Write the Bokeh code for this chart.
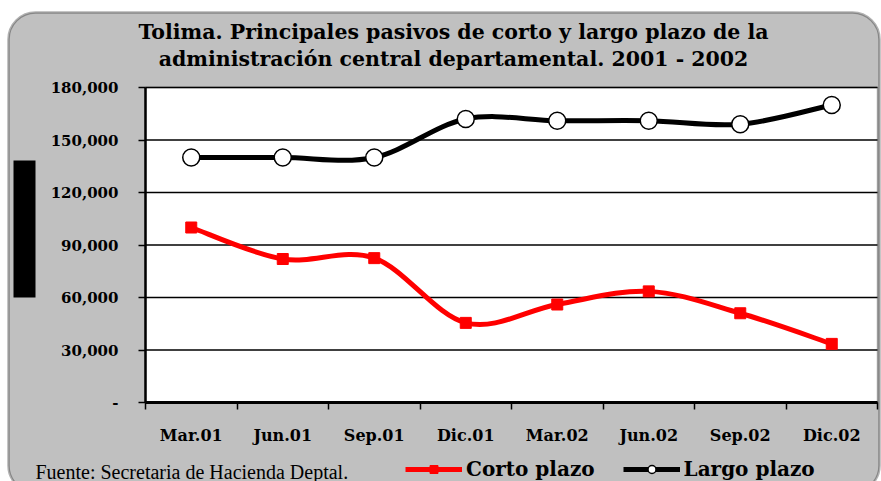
from bokeh.plotting import figure
from bokeh.models import (Range1d, FixedTicker, BoxAnnotation, Label, Legend, LegendItem)
from bokeh.embed import file_html
from bokeh.resources import INLINE

# ---- data ----
periods = ["Mar.01", "Jun.01", "Sep.01", "Dic.01", "Mar.02", "Jun.02", "Sep.02", "Dic.02"]
corto_plazo = [100000, 82000, 82500, 45500, 56000, 63500, 51000, 33500]
largo_plazo = [140000, 140000, 140000, 162000, 161000, 161000, 159000, 170000]
y_ticks = [0, 30000, 60000, 90000, 120000, 150000, 180000]
y_tick_labels = ["-", "30,000", "60,000", "90,000", "120,000", "150,000", "180,000"]
title_lines = ["Tolima. Principales pasivos de corto y largo plazo de la",
               "administración central departamental. 2001 - 2002"]
source_text = "Fuente: Secretaria de Hacienda Deptal."

# ---- layout (pixels) ----
W, H = 881, 481
PL, PR, PT, PB = 145, 877, 87, 402      # plot-area edges in page pixels
YMAX = 180000
SERIF_B = "DejaVu Serif"
GRAY = "#C0C0C0"

n = len(periods)
kx = n / (PR - PL)
ky = YMAX / (PB - PT)
x_range = Range1d(-PL * kx, (W - PL) * kx)
y_range = Range1d(-(H - PB) * ky, YMAX + PT * ky)


def sy(page_y):
    return H - page_y


xs = [i + 0.5 for i in range(n)]


def bezier_segments(x, y):
    m = len(x)
    seg = dict(x0=[], y0=[], x1=[], y1=[], cx0=[], cy0=[], cx1=[], cy1=[])
    for i in range(m - 1):
        a = max(i - 1, 0)
        d = min(i + 2, m - 1)
        seg["x0"].append(x[i]); seg["y0"].append(y[i])
        seg["x1"].append(x[i + 1]); seg["y1"].append(y[i + 1])
        seg["cx0"].append(x[i] + (x[i + 1] - x[a]) / 6.0)
        seg["cy0"].append(y[i] + (y[i + 1] - y[a]) / 6.0)
        seg["cx1"].append(x[i + 1] - (x[d] - x[i]) / 6.0)
        seg["cy1"].append(y[i + 1] - (y[d] - y[i]) / 6.0)
    return seg


p = figure(width=W, height=H, output_backend="svg", toolbar_location=None, title=None,
           x_range=x_range, y_range=y_range,
           min_border_left=0, min_border_right=0, min_border_top=0, min_border_bottom=0)
p.border_fill_color = "white"
p.background_fill_color = "white"
p.outline_line_color = None

# rounded gray panel
p.add_layout(BoxAnnotation(left=8, right=879, top=sy(12), bottom=sy(492),
                           left_units="screen", right_units="screen",
                           top_units="screen", bottom_units="screen",
                           fill_color=GRAY, fill_alpha=1, line_color="black", line_width=2.5,
                           border_radius=27, level="image"))
# white plot area
p.add_layout(BoxAnnotation(left=0, right=n, bottom=0, top=YMAX,
                           fill_color="white", fill_alpha=1, line_color="black",
                           line_width=1.5, level="image"))
# black bar at left
p.add_layout(BoxAnnotation(left=13, right=35, top=sy(160), bottom=sy(297),
                           left_units="screen", right_units="screen",
                           top_units="screen", bottom_units="screen",
                           fill_color="black", fill_alpha=1, line_alpha=0, level="image"))

# horizontal grid lines across the plot area
p.segment(x0=0, x1=n, y0=y_ticks, y1=y_ticks, line_color="black", line_width=1.5)

# axes
p.xgrid.visible = False
p.ygrid.visible = False

xa = p.xaxis[0]
xa.fixed_location = 0
xa.bounds = (0, n)
xa.ticker = FixedTicker(ticks=xs, minor_ticks=list(range(n + 1)))
xa.major_label_overrides = {x: lab for x, lab in zip(xs, periods)}
xa.major_tick_out = 0
xa.major_tick_in = 0
xa.minor_tick_out = 7
xa.minor_tick_in = 0
xa.minor_tick_line_color = "black"
xa.minor_tick_line_width = 1.5
xa.axis_line_width = 3
xa.major_label_standoff = 16
xa.major_label_text_font = SERIF_B
xa.major_label_text_font_style = "bold"
xa.major_label_text_font_size = "16px"
xa.major_label_text_color = "black"

ya = p.yaxis[0]
ya.fixed_location = 0
ya.bounds = (0, YMAX)
ya.ticker = FixedTicker(ticks=y_ticks, minor_ticks=[])
ya.major_label_overrides = {t: lab for t, lab in zip(y_ticks, y_tick_labels)}
ya.major_tick_out = 7
ya.major_tick_in = 0
ya.major_tick_line_width = 1.5
ya.axis_line_width = 2.5
ya.major_label_standoff = 20
ya.major_label_text_font = SERIF_B
ya.major_label_text_font_style = "bold"
ya.major_label_text_font_size = "15px"
ya.major_label_text_color = "black"

# series
sc = bezier_segments(xs, corto_plazo)
sl = bezier_segments(xs, largo_plazo)
rb_c = p.bezier(source=sc, x0="x0", y0="y0", x1="x1", y1="y1", cx0="cx0", cy0="cy0",
                cx1="cx1", cy1="cy1", line_color="red", line_width=5)
rs_c = p.scatter(xs, corto_plazo, marker="square", size=11, fill_color="red", line_color="red")
rb_l = p.bezier(source=sl, x0="x0", y0="y0", x1="x1", y1="y1", cx0="cx0", cy0="cy0",
                cx1="cx1", cy1="cy1", line_color="black", line_width=5)
rs_l = p.scatter(xs, largo_plazo, marker="circle", size=17, fill_color="white",
                 line_color="black", line_width=1.5)

# titles
for txt, yy in zip(title_lines, [31, 58]):
    p.add_layout(Label(x=453, y=sy(yy), x_units="screen", y_units="screen", text=txt,
                       text_align="center", text_baseline="middle",
                       text_font=SERIF_B, text_font_style="bold",
                       text_font_size="20.5px", text_color="black"))

p.add_layout(Label(x=35, y=sy(471), x_units="screen", y_units="screen", text=source_text,
                   text_align="left", text_baseline="middle",
                   text_font="Liberation Serif", text_font_size="20px",
                   text_color="black"))

legend = Legend(items=[LegendItem(label="Corto plazo", renderers=[rb_c, rs_c]),
                       LegendItem(label="Largo plazo", renderers=[rb_l, rs_l])],
                location=(405, sy(481)), orientation="horizontal",
                background_fill_alpha=0, border_line_alpha=0,
                padding=0, margin=0, spacing=28, label_standoff=4,
                glyph_width=57, glyph_height=20,
                label_text_font=SERIF_B, label_text_font_style="bold",
                label_text_font_size="20px", label_text_color="black")
p.add_layout(legend)

open("out.html", "w").write(file_html(p, INLINE))
